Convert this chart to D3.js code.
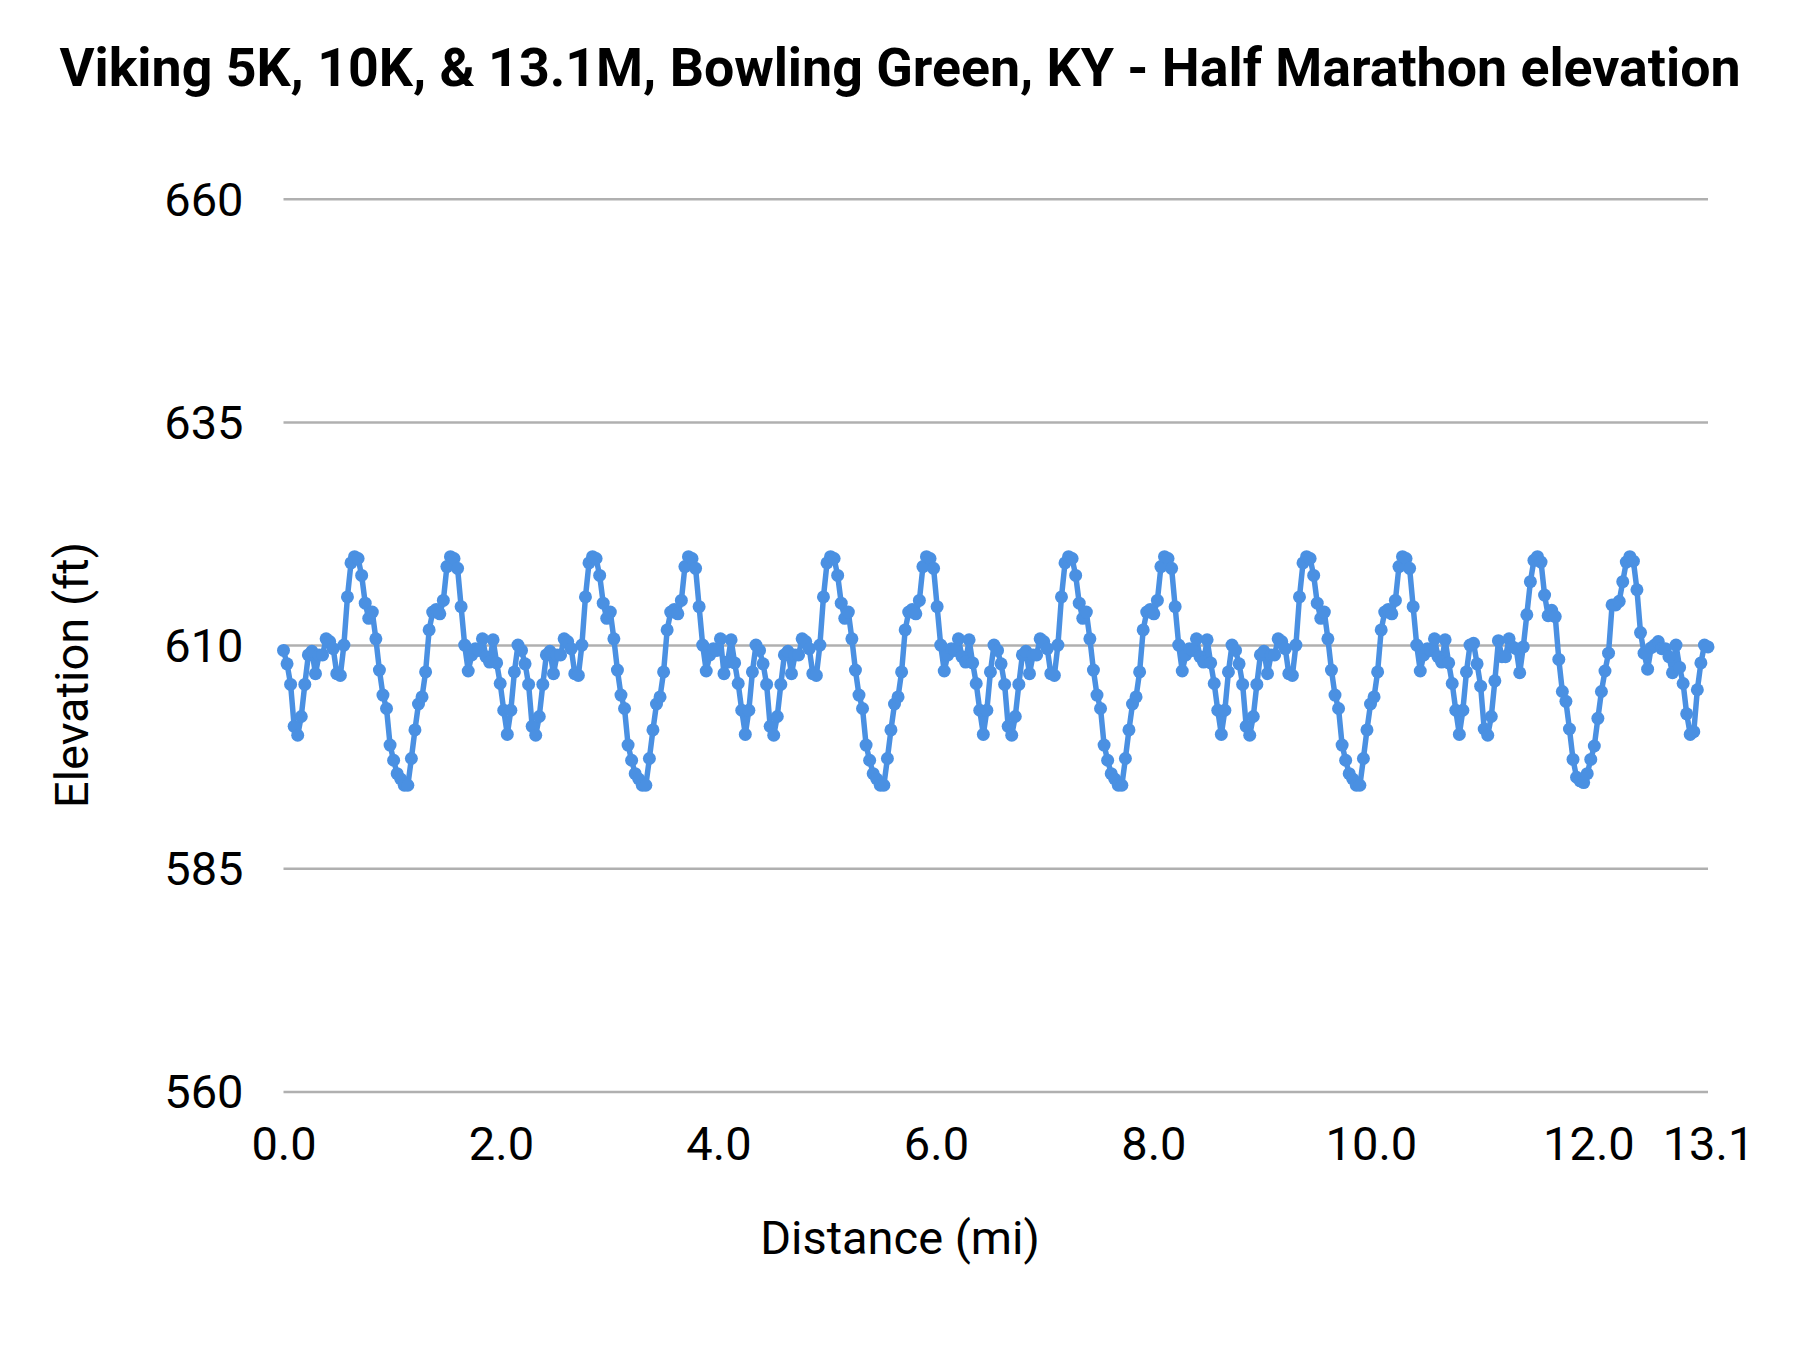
<!DOCTYPE html>
<html>
<head>
<meta charset="utf-8">
<script src="https://cdn.jsdelivr.net/npm/d3@7"></script>
<style>
  html, body { margin: 0; padding: 0; background: #ffffff; }
  svg { display: block; font-family: Roboto, "Noto Sans", sans-serif; }
</style>
</head>
<body>
<svg id="chart" width="1800" height="1350"></svg>
<script>
// ---- Data ----
const chartTitle = "Viking 5K, 10K, & 13.1M, Bowling Green, KY - Half Marathon elevation";
const xTitle = "Distance (mi)";
const yTitle = "Elevation (ft)";
const totalDistance = 13.1;
const yTicks = [560, 585, 610, 635, 660];
const xTicks = [0, 2, 4, 6, 8, 10, 12, 13.1];

// elevation (ft) for each of the six laps, in order
const lap1 = [609.4,607.9,605.6,600.9,599.9,602.0,605.6,608.9,609.3,606.8,608.9,608.9,610.7,610.4,609.6,606.8,606.6,610.0,615.4,619.2,619.9,619.7,617.8,614.7,613.0,613.7,610.7,607.2,604.4,602.9,598.8,597.1,595.6,595.0,594.3,594.3,597.3,600.5,603.4,604.2,607.0,611.7,613.7,614.0,613.5,615.0,618.8,619.9,619.7,618.6,614.3,610.0,607.1,608.9,609.6,609.4,610.7,608.7,608.1,610.6,608.0,605.7,602.7,600.0,602.7,607.0,610.0];
const lap2 = [609.4,607.9,605.6,600.9,599.9,602.0,605.6,608.9,609.3,606.8,608.9,608.9,610.7,610.4,609.6,606.8,606.6,610.0,615.4,619.2,619.9,619.7,617.8,614.7,613.0,613.7,610.7,607.2,604.4,602.9,598.8,597.1,595.6,595.0,594.3,594.3,597.3,600.5,603.4,604.2,607.0,611.7,613.7,614.0,613.5,615.0,618.8,619.9,619.7,618.6,614.3,610.0,607.1,608.9,609.6,609.4,610.7,606.8,608.1,610.6,608.0,605.7,602.7,600.0,602.7,607.0,610.0];
const lap3 = [609.4,607.9,605.6,600.9,599.9,602.0,605.6,608.9,609.3,606.8,608.9,608.9,610.7,610.4,609.6,606.8,606.6,610.0,615.4,619.2,619.9,619.7,617.8,614.7,613.0,613.7,610.7,607.2,604.4,602.9,598.8,597.1,595.6,595.0,594.3,594.3,597.3,600.5,603.4,604.2,607.0,611.7,613.7,614.0,613.5,615.0,618.8,619.9,619.7,618.6,614.3,610.0,607.1,608.9,609.6,609.4,610.7,608.7,608.1,610.6,608.0,605.7,602.7,600.0,602.7,607.0,610.0];
const lap4 = [609.4,607.9,605.6,600.9,599.9,602.0,605.6,608.9,609.3,606.8,608.9,608.9,610.7,610.4,609.6,606.8,606.6,610.0,615.4,619.2,619.9,619.7,617.8,614.7,613.0,613.7,610.7,607.2,604.4,602.9,598.8,597.1,595.6,595.0,594.3,594.3,597.3,600.5,603.4,604.2,607.0,611.7,613.7,614.0,613.5,615.0,618.8,619.9,619.7,618.6,614.3,610.0,607.1,608.9,609.6,609.4,610.7,608.7,608.1,610.6,608.0,605.7,602.7,600.0,602.7,607.0,610.0];
const lap5 = [609.4,607.9,605.6,600.9,599.9,602.0,605.6,608.9,609.3,606.8,608.9,608.9,610.7,610.4,609.6,606.8,606.6,610.0,615.4,619.2,619.9,619.7,617.8,614.7,613.0,613.7,610.7,607.2,604.4,602.9,598.8,597.1,595.6,595.0,594.3,594.3,597.3,600.5,603.4,604.2,607.0,611.7,613.7,614.0,613.5,615.0,618.8,619.9,619.7,618.6,614.3,610.0,607.1,608.9,609.6,609.4,610.7,608.7,608.1,610.6,608.0,605.7,602.7,600.0,602.7,607.0,610.0];
const lap6 = [610.2,607.9,605.4,600.6,599.9,602.0,606.0,610.5,608.7,608.7,610.7,609.8,609.6,606.9,609.8,613.4,617.1,619.5,619.9,619.3,615.6,613.3,613.9,613.2,608.4,604.8,603.7,600.6,597.2,595.2,594.8,594.6,595.6,597.2,598.7,601.8,604.8,607.1,609.1,614.5,614.5,614.9,617.1,619.3,619.9,619.4,616.2,611.4,609.1,607.3,609.7,610.0,610.4,609.6,609.6,608.7,606.9,610.0,607.5,605.7,602.3,600.0,600.3,605.0,608.0,610.0,609.8];

const elevation = [].concat(lap1, lap2, lap3, lap4, lap5, lap6);
// samples are evenly spaced along the course
const distance = elevation.map((_, i) => i * totalDistance / (elevation.length - 1));
const points = elevation.map((e, i) => ({ dist: distance[i], elev: e }));

// ---- Layout ----
const W = 1800, H = 1350;
const plotLeft = 283.5, plotRight = 1708, plotTop = 198.7, plotBottom = 1091.5;
const lineColor = "#4a90e2";
const labelSize = 47;

const svg = d3.select("#chart");
svg.append("rect").attr("width", W).attr("height", H).attr("fill", "#ffffff");

const x = d3.scaleLinear().domain([0, totalDistance]).range([plotLeft, plotRight]);
const y = d3.scaleLinear().domain([560, 660]).range([plotBottom, plotTop]);

// Y axis with gridlines
const yAxisG = svg.append("g")
  .attr("transform", `translate(${plotLeft},0)`)
  .call(d3.axisLeft(y).tickValues(yTicks).tickSize(-(plotRight - plotLeft)).tickPadding(40).tickFormat(d3.format("d")));
yAxisG.select(".domain").remove();
yAxisG.selectAll(".tick line").attr("stroke", "#b0b0b0").attr("stroke-width", 2.5);
yAxisG.selectAll(".tick text")
  .attr("font-size", labelSize).attr("fill", "#000").attr("font-family", "Roboto")
  .attr("dy", "0.35em");

// X axis labels
const xAxisG = svg.append("g")
  .attr("transform", `translate(0,${plotBottom})`)
  .call(d3.axisBottom(x).tickValues(xTicks).tickSize(0).tickFormat(d3.format(".1f")));
xAxisG.select(".domain").remove();
xAxisG.selectAll(".tick text")
  .attr("font-size", labelSize).attr("fill", "#000").attr("font-family", "Roboto")
  .attr("y", 1160 - plotBottom).attr("dy", 0);

// Line
svg.append("path")
  .datum(points)
  .attr("fill", "none")
  .attr("stroke", lineColor)
  .attr("stroke-width", 5.5)
  .attr("stroke-linejoin", "round")
  .attr("d", d3.line().x(d => x(d.dist)).y(d => y(d.elev)));

// Points
svg.append("g").selectAll("circle")
  .data(points)
  .join("circle")
  .attr("cx", d => x(d.dist))
  .attr("cy", d => y(d.elev))
  .attr("r", 6.5)
  .attr("fill", lineColor);

// Title
svg.append("text")
  .attr("x", 900).attr("y", 86)
  .attr("text-anchor", "middle")
  .attr("font-size", 53.7).attr("font-weight", "bold").attr("font-family", "Roboto")
  .attr("fill", "#000")
  .text(chartTitle);

// Axis titles
svg.append("text")
  .attr("x", 900).attr("y", 1254)
  .attr("text-anchor", "middle")
  .attr("font-size", labelSize).attr("font-family", "Roboto").attr("fill", "#000")
  .text(xTitle);

svg.append("text")
  .attr("transform", "translate(88,675) rotate(-90)")
  .attr("text-anchor", "middle")
  .attr("font-size", labelSize).attr("font-family", "Roboto").attr("fill", "#000")
  .text(yTitle);
</script>
</body>
</html>
